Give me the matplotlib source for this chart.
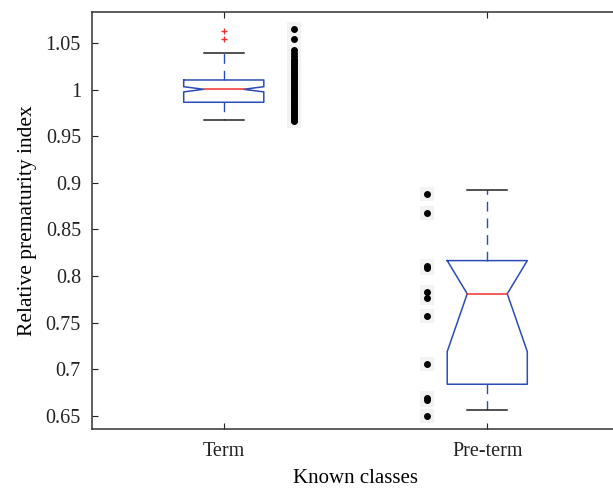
import matplotlib
matplotlib.use("Agg")
import matplotlib.pyplot as plt
import numpy as np

plt.rcParams['font.family'] = ['Liberation Serif', 'DejaVu Serif']

# ---- data ----
categories = ["Term", "Pre-term"]
positions = [1, 2]
# box statistics
q1 = [0.9864, 0.684]
med = [1.0003, 0.781]
q3 = [1.0103, 0.8166]
notch_lo = [0.9975, 0.719]
notch_hi = [1.0031, 0.843]
whisk_lo = [0.9674, 0.6564]
whisk_hi = [1.0396, 0.892]
outliers_term = [1.0632, 1.054]

# raw observations plotted beside each box
term_points = [1.065, 1.054, 1.0425, 1.039, 1.036, 1.033, 1.031, 1.029, 1.027,
               1.025, 1.023, 1.021, 1.019, 1.017, 1.015, 1.013, 1.011, 1.009,
               1.007, 1.005, 1.003, 1.001, 0.999, 0.997, 0.995, 0.993, 0.991,
               0.989, 0.987, 0.985, 0.983, 0.981, 0.979, 0.977, 0.975, 0.973,
               0.971, 0.969, 0.9675, 0.966]
preterm_points = [0.888, 0.868, 0.811, 0.809, 0.783, 0.776, 0.7576, 0.7058,
                  0.669, 0.667, 0.6503]
points_offset = [0.265, -0.23]

yticks = [0.65, 0.7, 0.75, 0.8, 0.85, 0.9, 0.95, 1.0, 1.05]
yticklabels = ["0.65", "0.7", "0.75", "0.8", "0.85", "0.9", "0.95", "1", "1.05"]

# ---- figure ----
fig = plt.figure(figsize=(6.13, 4.91), dpi=100)
ax = fig.add_axes([92/613, 62/491, 527/613, 417/491])
ax.set_xlim(0.5, 2.5)
ax.set_ylim(0.636, 1.0832)

blue = '#2a4db5'
red = '#f03030'
hw = 0.152   # box half width
nw = 0.076   # notch half width

for i, p in enumerate(positions):
    lo_n = max(notch_lo[i], q1[i])
    hi_n = min(notch_hi[i], q3[i])
    xs = [p - hw, p - hw, p - nw, p - hw, p - hw, p + hw, p + hw, p + nw, p + hw, p + hw, p - hw]
    ys = [q3[i], hi_n, med[i], lo_n, q1[i], q1[i], lo_n, med[i], hi_n, q3[i], q3[i]]
    ax.plot(xs, ys, color=blue, lw=1.1, zorder=3)
    ax.plot([p - nw, p + nw], [med[i], med[i]], color=red, lw=1.1, zorder=4)
    ax.plot([p, p], [q3[i], whisk_hi[i]], color=blue, lw=1.0, ls=(0, (7, 5)), zorder=2)
    ax.plot([p, p], [q1[i], whisk_lo[i]], color=blue, lw=1.0, ls=(0, (7, 5)), zorder=2)
    ax.plot([p - nw, p + nw], [whisk_hi[i]] * 2, color='#222222', lw=1.1, zorder=3)
    ax.plot([p - nw, p + nw], [whisk_lo[i]] * 2, color='#222222', lw=1.1, zorder=3)

ax.plot([positions[0]] * len(outliers_term), outliers_term, '+', color=red,
        ms=5, mew=1.0, zorder=4)

for p, off, pts in [(positions[0], points_offset[0], term_points),
                    (positions[1], points_offset[1], preterm_points)]:
    x = np.full(len(pts), p + off)
    ax.plot(x, pts, 's', color='#f2f2f2', ms=10, mew=0, zorder=1)
    ax.plot(x, pts, 'o', color='black', ms=5, mew=0, zorder=5)

ax.set_xticks(positions)
ax.set_xticklabels(categories)
ax.set_yticks(yticks)
ax.set_yticklabels(yticklabels)
ax.tick_params(direction='in', length=4, width=0.8, labelsize=14.5, pad=8,
               top=True, right=False, colors='#222222')
ax.tick_params(axis='x', pad=9)
for s in ['left', 'top', 'bottom']:
    ax.spines[s].set_linewidth(1.1)
    ax.spines[s].set_color('#333333')
ax.spines['right'].set_visible(False)

ax.set_ylabel("Relative prematurity index", fontsize=15.5, labelpad=6)
ax.set_xlabel("Known classes", fontsize=15, labelpad=6)

fig.savefig("out.png", dpi=100)
